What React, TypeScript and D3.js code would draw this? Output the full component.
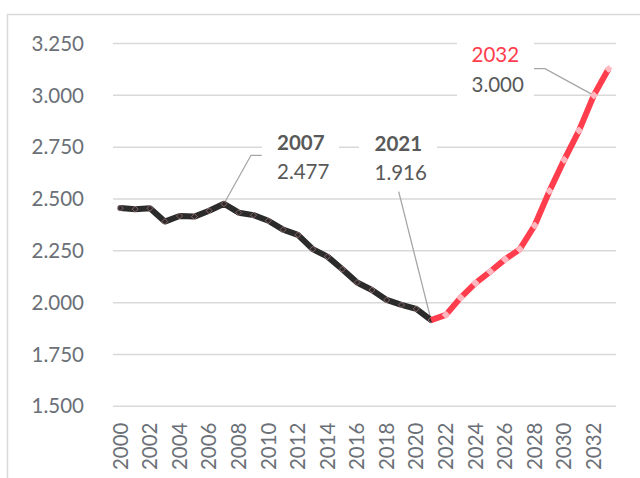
import React from "react";
import * as d3 from "d3";

const years: number[] = d3.range(2000, 2034);
const historic: number[] = [
  2.456, 2.451, 2.455, 2.391, 2.418, 2.415, 2.443, 2.477, 2.434, 2.422,
  2.395, 2.352, 2.327, 2.258, 2.222, 2.161, 2.097, 2.061, 2.013, 1.989,
  1.97, 1.916,
];
const forecastYears: number[] = d3.range(2021, 2034);
const forecast: number[] = [
  1.916, 1.941, 2.024, 2.094, 2.15, 2.209, 2.258, 2.372, 2.538, 2.689,
  2.83, 3.0, 3.128,
];
const yTicks: number[] = [1.5, 1.75, 2.0, 2.25, 2.5, 2.75, 3.0, 3.25];
const xTickYears: number[] = d3.range(2000, 2033, 2);

const fmt = (v: number) => v.toFixed(3);

export default function App() {
  const W = 640, H = 478;
  const FS = 20.5;
  const x = d3.scaleBand<number>().domain(years).range([113, 616]);
  const cx = (yr: number) => (x(yr) as number) + x.bandwidth() / 2;
  const y = d3.scaleLinear().domain([1.5, 3.25]).range([406.3, 43.5]);
  const font = "Lato, 'Open Sans', sans-serif";
  const histLine = d3.line<number>().x((_, i) => cx(years[i])).y((d) => y(d))(historic) || "";
  const fcLine = d3.line<number>().x((_, i) => cx(forecastYears[i])).y((d) => y(d))(forecast) || "";
  const diamond = (px: number, py: number, r: number) =>
    `M${px},${py - r}L${px + r},${py}L${px},${py + r}L${px - r},${py}Z`;

  const p2007 = { x: cx(2007), y: y(historic[7]) };
  const p2021 = { x: cx(2021), y: y(historic[21]) };
  const p2032 = { x: cx(2032), y: y(forecast[11]) };

  return (
    <svg width={W} height={H} style={{ position: "fixed", left: 0, top: 0 }} fontFamily={font}>
      <rect x={0} y={0} width={W} height={H} fill="#fff" />
      <rect x={7.5} y={14.5} width={720} height={520} fill="none" stroke="#d9d9d9" strokeWidth={1.5} />
      {yTicks.map((t) => (
        <g key={t}>
          <line x1={113} x2={616} y1={y(t)} y2={y(t)} stroke="#d9d9d9" strokeWidth={1.5} />
          <text x={84} y={y(t)} dy="0.35em" textAnchor="end" fontSize={FS} fill="#6b7077">
            {fmt(t)}
          </text>
        </g>
      ))}
      {xTickYears.map((yr) => (
        <text
          key={yr}
          transform={`translate(${cx(yr)},${422.5}) rotate(-90)`}
          dy="0.35em"
          textAnchor="end"
          fontSize={FS}
          fill="#6b7077"
        >
          {yr}
        </text>
      ))}
      {/* label backgrounds */}
      <rect x={262} y={130} width={77} height={60} fill="#fff" />
      <rect x={359} y={130} width={78} height={60} fill="#fff" />
      <rect x={457} y={38} width={77} height={64} fill="#fff" />
      {/* leader lines */}
      <polyline points={`261.7,155.3 251,155.3 ${p2007.x},${p2007.y}`} fill="none" stroke="#a6a6a6" strokeWidth={1.3} />
      <polyline points={`398.7,191.7 ${p2021.x},${p2021.y}`} fill="none" stroke="#a6a6a6" strokeWidth={1.3} />
      <polyline points={`534,68.7 545,68.7 ${p2032.x},${p2032.y}`} fill="none" stroke="#a6a6a6" strokeWidth={1.3} />
      {/* lines */}
      <path d={histLine} fill="none" stroke="#2b2b2b" strokeWidth={6} strokeLinejoin="round" strokeLinecap="round" />
      {historic.map((v, i) => (
        <path key={i} d={diamond(cx(years[i]), y(v), 3)} fill="none" stroke="#f4a6ad" strokeWidth={0.8} opacity={0.6} />
      ))}
      <path d={fcLine} fill="none" stroke="#ff3d4d" strokeWidth={6} strokeLinejoin="round" />
      {forecast.map((v, i) =>
        i === 0 ? null : (
          <path key={i} d={diamond(cx(forecastYears[i]), y(v), 3.6)} fill="#ffb8c0" stroke="#ffc9cf" strokeWidth={0.8} />
        )
      )}
      {/* annotation texts */}
      <text x={277} y={143} dy="0.35em" fontSize={FS} fontWeight="bold" fill="#595959">2007</text>
      <text x={277} y={172} dy="0.35em" fontSize={FS} fill="#595959">{fmt(historic[7])}</text>
      <text x={374.5} y={144} dy="0.35em" fontSize={FS} fontWeight="bold" fill="#595959">2021</text>
      <text x={374.5} y={173} dy="0.35em" fontSize={FS} fill="#595959">{fmt(historic[21])}</text>
      <text x={471.5} y={55} dy="0.35em" fontSize={FS} fill="#ff3d4d">2032</text>
      <text x={471.5} y={85} dy="0.35em" fontSize={FS} fill="#595959">{fmt(forecast[11])}</text>
    </svg>
  );
}
